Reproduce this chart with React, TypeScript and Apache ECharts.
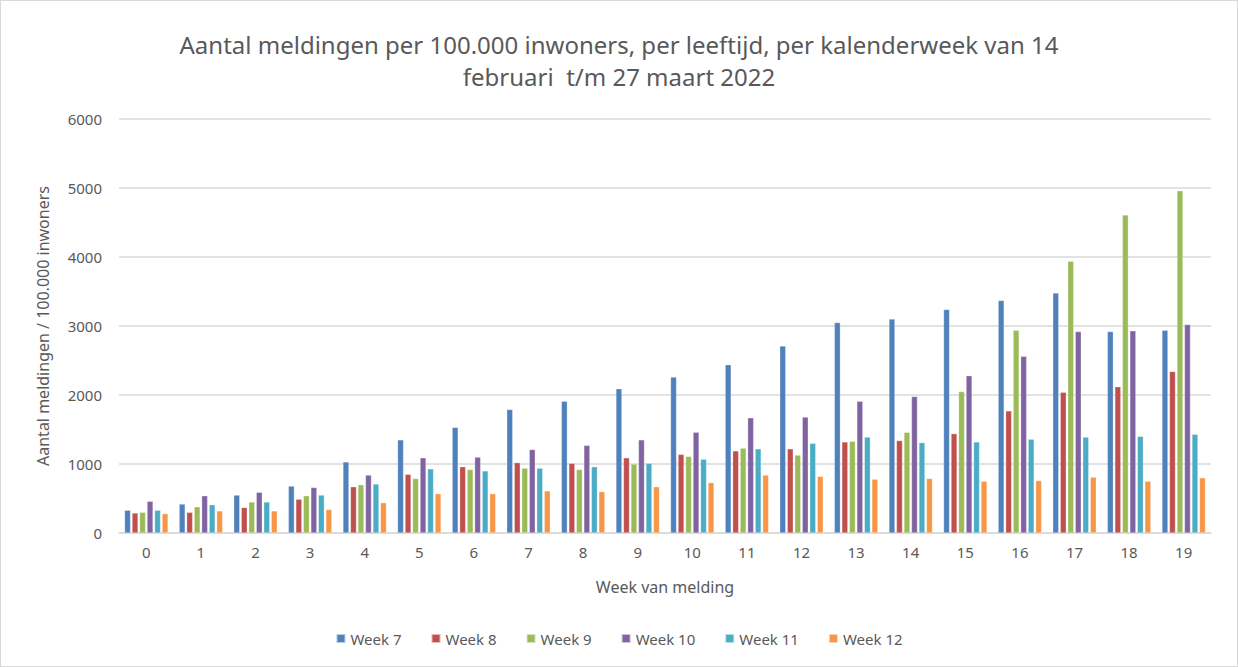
import React, { useEffect, useRef } from "react";
import * as echarts from "echarts";

const categories = ["0","1","2","3","4","5","6","7","8","9","10","11","12","13","14","15","16","17","18","19"];
const seriesNames = ["Week 7","Week 8","Week 9","Week 10","Week 11","Week 12"];
const week7 = [330,420,550,680,1030,1350,1530,1790,1910,2090,2260,2440,2710,3050,3100,3240,3370,3480,2920,2940];
const week8 = [290,300,370,490,670,850,960,1020,1010,1090,1140,1190,1220,1320,1340,1440,1770,2040,2120,2340];
const week9 = [300,380,450,540,700,790,920,940,920,1000,1110,1230,1130,1330,1460,2050,2940,3940,4610,4960];
const week10 = [460,540,590,660,840,1090,1100,1210,1270,1350,1460,1670,1680,1910,1980,2280,2560,2920,2930,3020];
const week11 = [330,410,450,550,710,930,900,940,960,1010,1070,1220,1300,1390,1310,1320,1360,1390,1400,1430];
const week12 = [280,320,320,340,440,570,570,610,600,670,730,840,820,780,790,750,760,810,750,800];
const colors = ["#4F81BD","#C0504D","#9BBB59","#8064A2","#4BACC6","#F79646"];
const yTicks = { min: 0, max: 6000, interval: 1000 };

export default function App() {
  const ref = useRef<HTMLDivElement>(null);
  useEffect(() => {
    document.body.style.margin = "0";
    const chart = echarts.init(ref.current!, null, { renderer: "svg" });
    const data = [week7, week8, week9, week10, week11, week12];
    const font = "'Noto Sans', sans-serif";
    chart.setOption({
      animation: false,
      backgroundColor: "#ffffff",
      textStyle: { fontFamily: font },
      title: {
        text: "Aantal meldingen per 100.000 inwoners, per leeftijd, per kalenderweek van 14\nfebruari  t/m 27 maart 2022",
        left: "center",
        top: 22,
        textStyle: { fontSize: 24, fontWeight: "normal", color: "#595959", lineHeight: 32, fontFamily: font },
      },
      legend: {
        bottom: 15,
        left: "center",
        itemWidth: 9,
        itemHeight: 9,
        itemGap: 29,
        icon: "rect",
        textStyle: { fontSize: 15, color: "#595959", fontFamily: font },
        data: seriesNames,
      },
      grid: { left: 118, right: 26, top: 118, bottom: 133, containLabel: false },
      xAxis: {
        type: "category",
        data: categories,
        name: "Week van melding",
        nameLocation: "middle",
        nameGap: 46,
        nameTextStyle: { fontSize: 16, color: "#595959" },
        axisLine: { lineStyle: { color: "#d9d9d9", width: 1.5 } },
        axisTick: { show: false },
        axisLabel: { fontSize: 15, color: "#595959", margin: 11 },
      },
      yAxis: {
        type: "value",
        min: yTicks.min,
        max: yTicks.max,
        interval: yTicks.interval,
        name: "Aantal meldingen / 100.000 inwoners",
        nameLocation: "middle",
        nameGap: 68,
        nameTextStyle: { fontSize: 16, color: "#595959" },
        axisLine: { show: false },
        axisTick: { show: false },
        axisLabel: { fontSize: 15, color: "#595959", margin: 17, formatter: (v: number) => String(v) },
        splitLine: { lineStyle: { color: "#d9d9d9", width: 1.5 } },
      },
      series: seriesNames.map((name, i) => ({
        name,
        type: "bar",
        data: data[i],
        barWidth: 6,
        barGap: "25%",
        itemStyle: { color: colors[i], borderColor: "rgba(255,255,255,0.6)", borderWidth: 0.5 },
      })),
    });
    return () => chart.dispose();
  }, []);
  return (
    <div
      ref={ref}
      style={{ width: 1236, height: 665, border: "1px solid #d9d9d9" }}
    />
  );
}
